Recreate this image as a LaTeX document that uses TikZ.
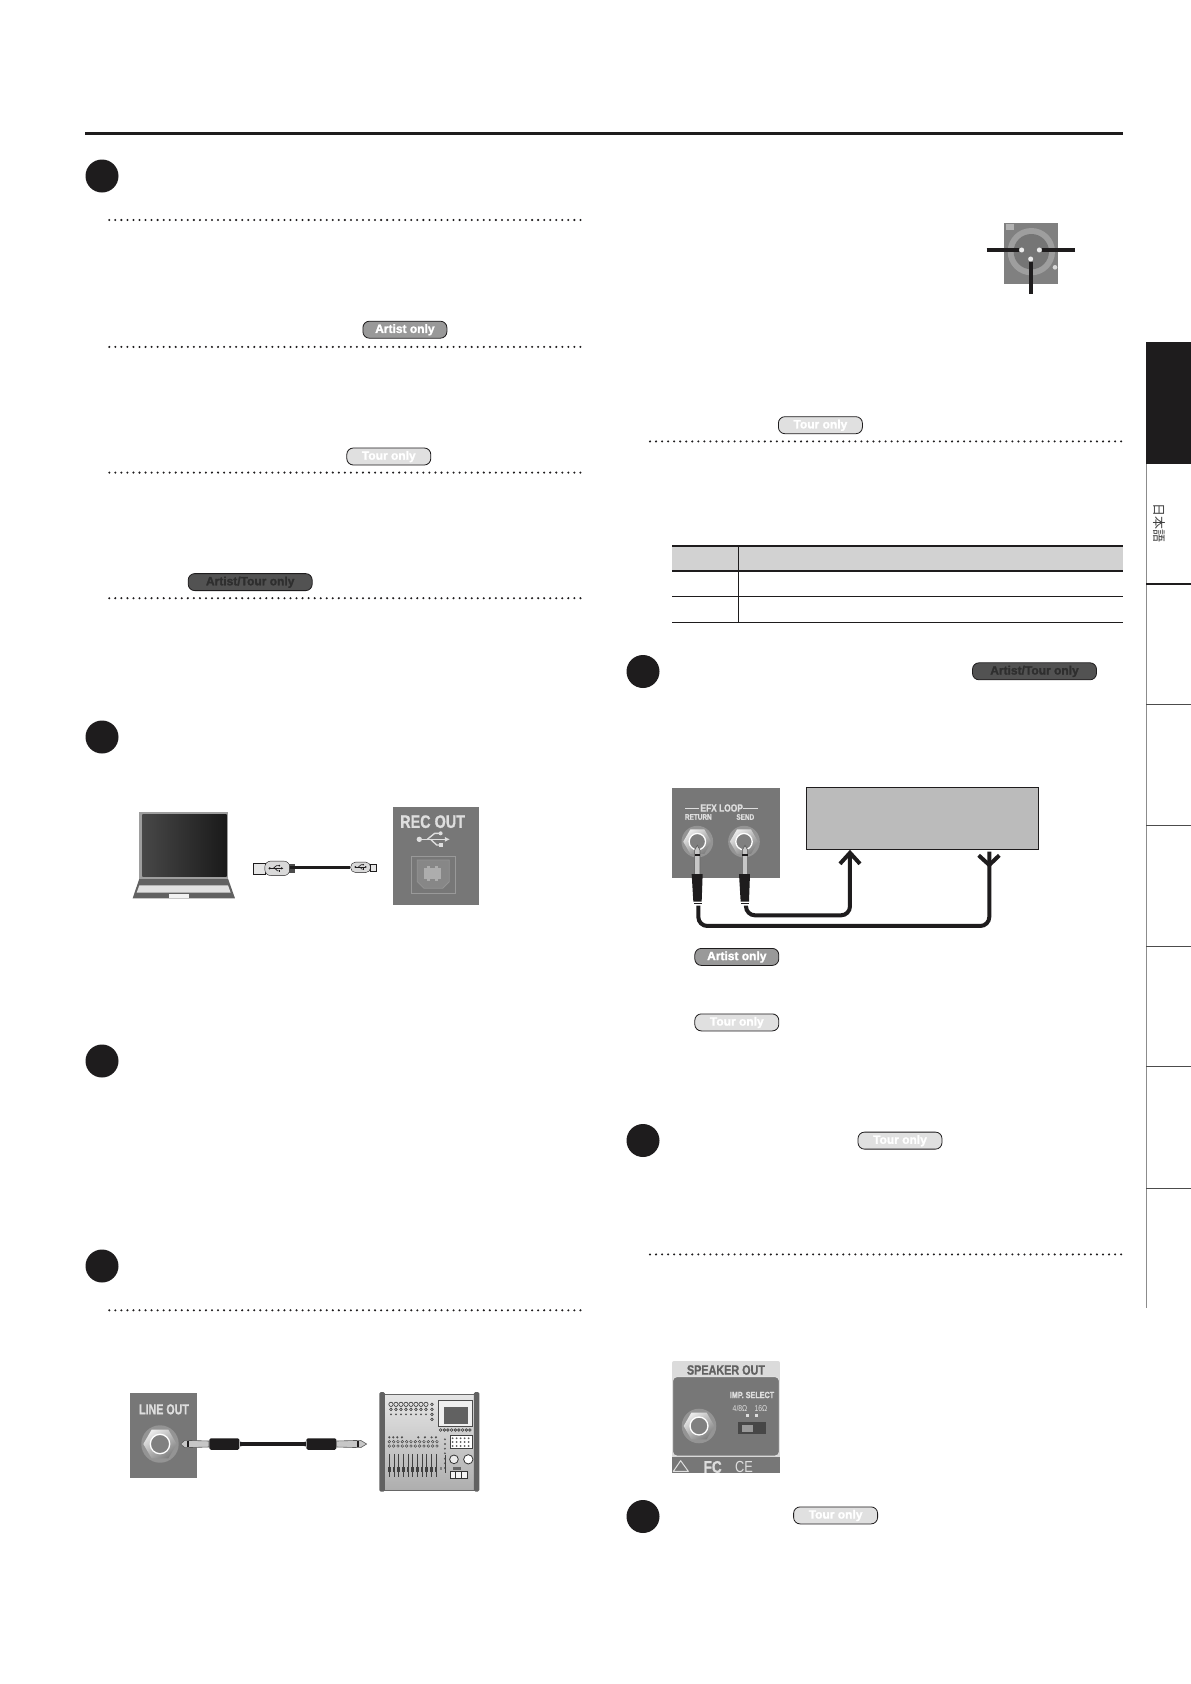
\documentclass[tikz,border=0pt]{standalone}
\usepackage{fontspec}
\setmainfont{Liberation Sans}
\newfontfamily\panelfont[FakeStretch=0.8]{Liberation Sans}
\newfontfamily\panelbold[FakeStretch=0.8,FakeBold=1]{Liberation Sans Bold}
\newfontfamily\pillfont[FakeBold=1.6]{Liberation Sans Bold}
\newfontfamily\cjkfont{Noto Sans CJK JP}
\usetikzlibrary{arrows.meta,shapes.geometric}

\definecolor{inkblack}{HTML}{1E1C1D}
\definecolor{panelgray}{HTML}{777777}
\definecolor{paneltext}{HTML}{DEDEDE}
\definecolor{boxgray}{HTML}{BBBBBB}
\definecolor{headgray}{HTML}{D2D2D2}

\tikzset{
  stepdot/.style={circle,fill=inkblack,minimum size=33pt,inner sep=0pt},
  dotline/.style={inkblack,line width=2.3pt,line cap=round,dash pattern=on 0pt off 6.04pt},
  pill/.style={rounded corners=6.5pt,draw=inkblack,line width=0.8pt,minimum height=17pt,inner sep=0pt,
    text height=8.8pt,text depth=2.4pt,font=\pillfont\fontsize{12}{14}\selectfont},
  artistpill/.style={pill,fill=black!40,text=white,minimum width=84pt},
  tourpill/.style={pill,fill=black!12,text=white,minimum width=84pt},
  bothpill/.style={pill,fill=black!68,text=black!82,minimum width=124pt},
  paneltitle/.style={text=paneltext,font=\panelbold,inner sep=0pt},
  hexnut/.style={regular polygon,regular polygon sides=6,inner sep=0pt,shading=axis,left color=black!8,right color=black!50,shading angle=35},
  wire/.style={inkblack,line width=4pt,rounded corners=9pt},
  pinline/.style={inkblack,line width=4pt},
  cable/.style={inkblack,line width=3.4pt},
  plugbody/.style={fill=inkblack,rounded corners=1.5pt},
  plugshaft/.style={draw=black!65,fill=black!22,line width=0.6pt},
  rowline/.style={inkblack,line width=1pt},
  headline/.style={inkblack,line width=2pt}
}

% round socket: nut, bright ring, hole
\newcommand{\jacknut}[4]{
  \fill[black!42] (#2,#3) circle ({#4*1.08});
  \node[hexnut,minimum size={#4*0.64pt}] (#1) at (#2,#3) {};
  \draw[white,fill=black!50,line width=1.3pt] (#2,#3) circle ({#4*0.56});
}
% usb mark, drawn around its middle
\newcommand{\usbmark}[5]{
  \begin{scope}[shift={(#1,#2)},scale=#3,#4,line width=#5]
    \fill (-42,0) circle (8);
    \draw[-{Latex[length=5pt,width=5pt,scale=#3]}] (-42,0) -- (50,0);
    \draw (-18,0) -- (4,-18) -- (20,-18);
    \fill (22,-18) circle (6);
    \draw (-8,0) -- (10,17) -- (20,17);
    \fill (17,11) rectangle (28,23);
  \end{scope}
}

\begin{document}
\begin{tikzpicture}[x=1pt,y=-1pt]
\useasboundingbox[fill=white] (0,0) rectangle (1191,1684);

\draw[inkblack,line width=3pt] (85,133.2) -- (1122.5,133.2);

% step marks
\node[stepdot] (stepa) at (102,176) {};
\node[stepdot] (stepb) at (102,737) {};
\node[stepdot] (stepc) at (102,1061) {};
\node[stepdot] (stepd) at (102,1266) {};
\node[stepdot] (stepe) at (643,671.5) {};
\node[stepdot] (stepf) at (643,1140.5) {};
\node[stepdot] (stepg) at (643,1516.5) {};

\foreach \yy in {220,346.9,472.6,598.2,1310.3}
  \draw[dotline] (109.3,\yy) -- (581.5,\yy);
\foreach \yy in {441.4,1254.4}
  \draw[dotline] (650,\yy) -- (1122.5,\yy);

% badges
\node[artistpill] (badgea) at (404.9,329.7) {Artist only};
\node[tourpill]   (badgeb) at (388.8,456.5) {Tour only};
\node[bothpill]   (badgec) at (250.2,582.1) {Artist/Tour only};
\node[tourpill]   (badged) at (820.4,425.2) {Tour only};
\node[bothpill]   (badgee) at (1034.5,671.3) {Artist/Tour only};
\node[artistpill] (badgef) at (736.8,956.9) {Artist only};
\node[tourpill]   (badgeg) at (736.8,1022.4) {Tour only};
\node[tourpill]   (badgeh) at (900,1140.6) {Tour only};
\node[tourpill]   (badgei) at (835.6,1515.4) {Tour only};

% side tabs
\draw[black!45,line width=1pt] (1146,342) -- (1146,1308);
\fill[inkblack] (1146,342) rectangle (1191,464);
\draw[inkblack,line width=1.6pt] (1146,584) -- (1191,584);
\foreach \yy in {704.5,825,946,1066.5,1188}
  \draw[black!70,line width=1pt] (1146,\yy) -- (1191,\yy);
\node[rotate=-90,text=black!75,inner sep=0pt,font=\cjkfont\fontsize{13}{15}\selectfont] (langtab) at (1159,523) {日本語};

% xlr socket
\begin{scope}[shift={(960,200)},x=0.3333pt,y=-0.3333pt]
  \fill[black!50] (132,68) rectangle (295,253);
  \fill[black!38] (214,155) circle (71);
  \fill[black!54] (214,155) circle (53);
  \fill[black!15] (285,202) circle (7);
  \fill[black!30] (137,72) rectangle (162,90);
  \node[circle,fill=black!8,minimum size=5pt,inner sep=0pt] (pinl) at (185,150) {};
  \node[circle,fill=black!8,minimum size=5pt,inner sep=0pt] (pinr) at (238,150) {};
  \node[circle,fill=black!8,minimum size=5pt,inner sep=0pt] (pinb) at (212,177) {};
  \coordinate (endl) at (80,150);
  \coordinate (endr) at (345,150);
  \coordinate (endb) at (212,282);
  \draw[pinline] (endl) -- (pinl);
  \draw[pinline] (endr) -- (pinr);
  \draw[pinline] (endb) -- (pinb);
\end{scope}

% table
\fill[headgray] (672,546) rectangle (1122.7,570.7);
\draw[headline] (672,546) -- (1122.7,546);
\draw[headline] (672,570.7) -- (1122.7,570.7);
\draw[rowline] (672,596.3) -- (1122.7,596.3);
\draw[rowline] (672,622) -- (1122.7,622);
\draw[rowline] (738.7,546) -- (738.7,622);

% laptop, usb cable, rec out
\begin{scope}[shift={(110,780)},x=0.3333pt,y=-0.3333pt]
  \fill[black!62] (90,290) -- (352,290) -- (375,355) -- (68,355) -- cycle;
  \fill[black!12] (88,316) -- (354,316) -- (362,338) -- (80,338) -- cycle;
  \fill[black!5] (178,343) rectangle (236,355);
  \fill[black!38] (88,95) rectangle (354,298);
  \shade[left color=black!72,right color=black!90] (97,103) rectangle (350,288);
  % usb cable
  \node[draw=inkblack,fill=black!10,minimum width=11.5pt,minimum height=11pt,inner sep=0pt] (usbtipa) at (447,265) {};
  \node[draw=inkblack,fill=black!15,rounded corners=6pt,minimum width=25pt,minimum height=14.5pt,inner sep=0pt] (usbbodya) at (502,265) {};
  \fill[black!70] (538,253) rectangle (555,278);
  \node[draw=inkblack,fill=black!15,rounded corners=5pt,minimum width=20pt,minimum height=10.5pt,inner sep=0pt] (usbbodyb) at (752,262) {};
  \node[draw=inkblack,fill=black!10,minimum width=6pt,minimum height=7.5pt,inner sep=0pt] (usbtipb) at (791,263) {};
  \draw[cable] (usbbodya.east |- usbbodyb.east) -- (usbbodyb.west);
  \usbmark{498}{265}{0.45}{inkblack}{0.7pt}
  \usbmark{752}{261}{0.38}{inkblack}{0.6pt}
  % rec out panel
  \fill[panelgray] (850,82) rectangle (1108,375);
  \node[paneltitle,font=\panelbold\fontsize{18}{20}\selectfont] (recout) at (968,125) {REC OUT};
  \usbmark{970}{178}{1}{paneltext}{1.4pt}
  \draw[black!40,line width=0.8pt] (903,228) rectangle (1037,340);
  \draw[black!42,fill=black!47,line width=0.8pt] (922,240) -- (1018,240) -- (1018,305) -- (998,325) -- (942,325) -- (922,305) -- cycle;
  \fill[black!32] (943,264) rectangle (993,298);
  \fill[black!32] (952,258) rectangle (960,304);
  \fill[black!32] (976,258) rectangle (984,304);
\end{scope}

% line out, plug cable, mixer
\begin{scope}[shift={(110,1370)},x=0.3333pt,y=-0.3333pt]
  \fill[panelgray] (60,70) rectangle (262,323);
  \node[paneltitle,xscale=0.92,font=\panelbold\fontsize{14.5}{16}\selectfont] (lineout) at (162,118) {LINE OUT};
  \jacknut{linejack}{150}{222}{52}
  \draw[plugshaft] (212,222) -- (224,211) -- (297,213) -- (297,231) -- (224,233) -- cycle;
  \fill[inkblack] (232,212) rectangle (238,232);
  \node[plugbody,minimum width=30pt,minimum height=11.5pt,inner sep=0pt] (plugl) at (343,222) {};
  \fill[black!30] (388,212) -- (398,217) -- (398,227) -- (388,232) -- cycle;
  \node[plugbody,minimum width=30pt,minimum height=11.5pt,inner sep=0pt] (plugr) at (634,222) {};
  \fill[black!30] (590,212) -- (580,217) -- (580,227) -- (590,232) -- cycle;
  \draw[cable] (plugl.east) -- (plugr.west);
  \draw[plugshaft] (680,213) -- (752,211) -- (770,222) -- (752,233) -- (680,231) -- cycle;
  \fill[inkblack] (740,212) rectangle (746,232);
  % mixer
  \shade[top color=black!10,bottom color=black!32,draw=black!60] (815,72) rectangle (1100,362);
  \fill[black!62,rounded corners=1.5pt] (808,66) rectangle (825,365);
  \fill[black!62,rounded corners=1.5pt] (1092,66) rectangle (1108,365);
  \draw[black!70,fill=black!6] (985,90) rectangle (1088,168);
  \fill[black!62] (1003,110) rectangle (1075,163);
  \foreach \xx in {843,858,...,950}{
    \draw[black!80,line width=0.6pt] (\xx,103) circle (6.5);
    \draw[black!80,line width=0.6pt] (\xx,118) circle (4);
    \fill[black!70] (\xx,133) circle (3.2);
  }
  \foreach \yy in {103,118,133,148}
    \draw[black!80,line width=0.6pt] (966,\yy) circle (4);
  \foreach \xx in {992,1003,...,1082}
    \draw[black!80,line width=0.6pt] (\xx,180) circle (4);
  \foreach \xx in {838,850,862,876,925,945,965,978}
    \fill[black!70] (\xx,202) circle (3.5);
  \foreach \xx in {838,851,...,985}{
    \draw[black!70,line width=0.5pt] (\xx,215) circle (4);
    \draw[black!70,line width=0.5pt] (\xx,228) circle (4);
  }
  \foreach \yy in {208,222,236,250,266,280,294}
    \fill[black!65] (1005,\yy) circle (3.2);
  \fill[black!50] (990,290) rectangle (996,300);
  \draw[black!75,fill=white,line width=0.5pt] (1020,195) rectangle (1088,235);
  \foreach \xx in {1028,1040,...,1084}{
    \fill[black!65] (\xx,205) circle (3);
    \fill[black!65] (\xx,216) circle (3);
    \fill[black!65] (\xx,228) circle (3);
  }
  \foreach \xx in {838,852,...,978}{
    \draw[black!75,line width=0.9pt] (\xx,253) -- (\xx,322);
    \fill[black!75] (\xx-4,292) rectangle (\xx+4,306);
  }
  \draw[black!75,line width=0.9pt] (1005,255) -- (1005,308);
  \draw[black!80,fill=black!8,line width=0.8pt] (1032,268) circle (13);
  \draw[black!80,fill=white,line width=0.8pt] (1075,268) circle (14);
  \fill[black!60] (1030,290) rectangle (1052,300);
  \draw[black!80,fill=black!4,line width=0.8pt] (1020,305) rectangle (1072,325);
  \draw[black!80,line width=0.8pt] (1037,305) -- (1037,325) (1054,305) -- (1054,325);
\end{scope}

% efx loop, box, return and send lines
\begin{scope}[shift={(650,770)},x=0.3333pt,y=-0.3333pt]
  \fill[panelgray] (66,54) rectangle (390,323);
  \node[paneltitle,font=\panelbold\fontsize{10.5}{12}\selectfont] (efxtitle) at (215,114) {EFX LOOP};
  \draw[paneltext,line width=0.8pt] (105,115) -- (148,115) (280,115) -- (325,115);
  \node[paneltitle,font=\panelbold\fontsize{8}{9}\selectfont] (rettitle) at (145,141) {RETURN};
  \node[paneltitle,font=\panelbold\fontsize{8}{9}\selectfont] (sendtitle) at (286,141) {SEND};
  \jacknut{retjack}{142}{215}{44}
  \jacknut{sendjack}{282}{215}{44}
  \node[draw=inkblack,fill=boxgray,line width=1pt,minimum width=232pt,minimum height=62pt,inner sep=0pt] (fxbox) at (818,145) {};
  \draw[plugshaft] (134,240) -- (142,226) -- (150,240) -- (150,315) -- (134,315) -- cycle;
  \draw[plugshaft] (277,240) -- (285,226) -- (293,240) -- (293,315) -- (277,315) -- cycle;
  \fill[inkblack] (134,252) rectangle (150,257);
  \fill[inkblack] (277,252) rectangle (293,257);
  \fill[inkblack] (125,312) -- (158,312) -- (155,395) -- (130,395) -- cycle;
  \fill[inkblack] (267,312) -- (300,312) -- (297,395) -- (272,395) -- cycle;
  \node[inner sep=0pt,minimum width=6pt,minimum height=1pt] (retplug) at (145,405) {};
  \node[inner sep=0pt,minimum width=6pt,minimum height=1pt] (sendplug) at (288,405) {};
  \draw[inkblack,line width=1pt] (132,400) -- (155,400) (274,400) -- (297,400);
  \coordinate (sendend) at (fxbox.south -| 600,0);
  \coordinate (retend) at (1018,245);
  \draw[wire,-{Straight Barb[length=11pt,width=20pt,line width=4pt]}] (sendplug) -- (288,436) -- (600,436) -- (sendend);
  \draw[wire] (retplug) -- (145,468) -- (1018,468) -- (retend);
  \draw[inkblack,line width=4pt] (986,256) -- (1018,285) -- (1048,256);
\end{scope}

% speaker out panel
\begin{scope}[shift={(650,1340)},x=0.3333pt,y=-0.3333pt]
  \fill[black!14,rounded corners=2pt] (66,63) rectangle (390,398);
  \fill[panelgray] (66,350) rectangle (390,398);
  \draw[black!12,fill=panelgray,line width=1pt,rounded corners=4pt] (68,110) rectangle (388,348);
  \node[inner sep=0pt,text=black!62,font=\panelbold\fontsize{13.5}{15}\selectfont] (spktitle) at (228,90) {SPEAKER OUT};
  \node[paneltitle,font=\panelbold\fontsize{9}{10}\selectfont] (imptitle) at (306,165) {IMP. SELECT};
  \node[paneltitle,font=\panelfont\fontsize{8.5}{10}\selectfont] (imploa) at (270,205) {4/8Ω};
  \node[paneltitle,font=\panelfont\fontsize{8.5}{10}\selectfont] (imphi) at (333,205) {16Ω};
  \fill[paneltext] (288,221) rectangle (298,231);
  \fill[paneltext] (314,221) rectangle (324,231);
  \fill[black!72] (265,245) rectangle (348,283);
  \fill[black!40] (275,255) rectangle (310,275);
  \jacknut{spkjack}{147}{258}{48}
  \draw[paneltext,line width=1pt,line join=round] (92,362) -- (115,394) -- (70,394) -- cycle;
  \node[paneltitle,font=\panelbold\fontsize{17}{19}\selectfont] (fcmark) at (188,381) {FC};
  \node[paneltitle,font=\panelfont\fontsize{16}{18}\selectfont] (cemark) at (282,381) {CE};
\end{scope}
\end{tikzpicture}
\end{document}
